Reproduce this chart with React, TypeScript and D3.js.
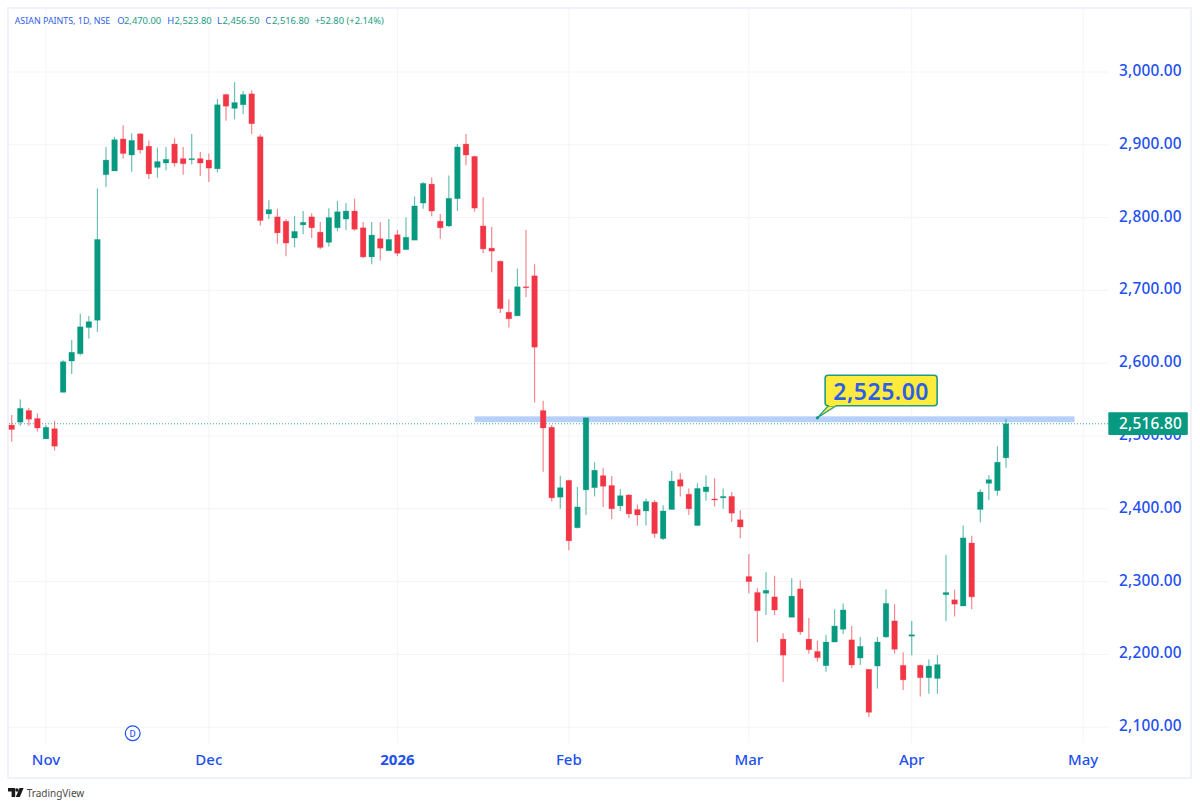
import * as d3 from 'd3';

const WIDTH = 1200;
const HEIGHT = 807;

// daily candles, Asian Paints NSE, late Oct 2025 to Apr 2026
const opens = [
  2515, 2519, 2535, 2524, 2496, 2510, 2560, 2603, 2613, 2649,
  2659, 2859, 2864, 2908, 2886, 2915, 2898, 2869, 2875, 2901,
  2881, 2879.5, 2881, 2879, 2867, 2969, 2950, 2955, 2970, 2911,
  2805, 2801, 2795, 2772, 2790, 2801, 2780, 2766, 2786, 2798,
  2809, 2786, 2746, 2771, 2754.5, 2776.5, 2756, 2769, 2820, 2846,
  2795, 2788.5, 2826, 2901, 2884, 2788.5, 2758, 2740, 2670, 2665,
  2705, 2720, 2535, 2512, 2416, 2439, 2374, 2426, 2429, 2445.5,
  2432, 2404, 2419, 2399, 2397, 2409, 2359, 2399, 2440, 2420,
  2377, 2423.5, 2413.5, 2415, 2417, 2385, 2307, 2285, 2284, 2279,
  2221, 2251, 2290, 2221, 2204, 2184.5, 2217, 2234.5, 2220, 2195,
  2179.5, 2184, 2224, 2246, 2185, 2225, 2185, 2168, 2167, 2282,
  2275, 2266.5, 2353, 2399, 2435, 2425, 2470,
];
const highs = [
  2529, 2550, 2538.5, 2531, 2515, 2521, 2604, 2632, 2668, 2665,
  2840, 2897, 2911, 2927, 2916, 2916, 2906, 2896, 2897, 2909,
  2897, 2915, 2890, 2888, 2963, 2970, 2986, 2974, 2975, 2914,
  2824, 2812, 2798, 2802, 2809, 2806, 2794, 2813, 2823, 2820,
  2826, 2794, 2794, 2793.5, 2798, 2783, 2800, 2829, 2849, 2855,
  2805, 2858, 2901, 2915, 2885, 2828, 2787, 2741, 2688, 2730,
  2783, 2736, 2548.5, 2515, 2445.5, 2440, 2430, 2525, 2464, 2456,
  2445, 2427, 2420, 2406, 2414, 2412, 2405, 2452, 2449, 2428,
  2435, 2446, 2442, 2428, 2423, 2398, 2338, 2291, 2313, 2308,
  2229, 2304.5, 2302, 2250, 2219, 2227, 2262, 2270, 2239, 2224,
  2180, 2224, 2289, 2269, 2203, 2246, 2186, 2193, 2199, 2337,
  2289, 2377, 2363, 2427, 2446, 2486, 2523.8,
];
const lows = [
  2492, 2514, 2514, 2506, 2496, 2480, 2560, 2585, 2611, 2634,
  2643, 2842, 2864, 2881, 2863, 2888, 2853, 2855, 2865, 2870,
  2859, 2873, 2857, 2849, 2862, 2933, 2935, 2942, 2915, 2789,
  2798, 2764, 2747, 2759, 2777, 2772, 2756.5, 2760, 2781, 2783,
  2782, 2744, 2736, 2741, 2754, 2747, 2756, 2769, 2812, 2802,
  2771, 2787, 2809, 2872, 2808, 2751, 2725, 2669, 2649, 2665,
  2691, 2546, 2451, 2410, 2400, 2343, 2373, 2391.5, 2417, 2402.5,
  2386, 2397, 2387, 2377, 2377, 2360, 2357, 2399, 2417, 2391.5,
  2377, 2411, 2403, 2400, 2382, 2359.5, 2284, 2217, 2254, 2254,
  2162, 2251, 2227, 2201, 2190, 2176, 2216.6, 2228, 2181, 2185.5,
  2114, 2153, 2222.5, 2201, 2151, 2199, 2142, 2146, 2146, 2245.5,
  2252, 2266, 2262, 2381.5, 2412, 2418, 2456.5,
];
const closes = [
  2509, 2538, 2523, 2511, 2512, 2486, 2602, 2615, 2650, 2657,
  2770, 2879, 2907, 2888, 2906, 2893, 2860, 2877, 2880, 2875,
  2874, 2881, 2875, 2868, 2955, 2953, 2958, 2969, 2929, 2796,
  2811, 2779, 2765, 2781, 2793.5, 2786, 2759, 2800, 2808, 2809,
  2784, 2746, 2776, 2758, 2770, 2751, 2773, 2816, 2847, 2809,
  2786, 2826.5, 2897, 2886, 2813, 2757, 2754, 2675, 2661, 2705,
  2704, 2622, 2511, 2415, 2429, 2356, 2402.5, 2525, 2453, 2431,
  2400, 2418, 2393, 2391.5, 2410, 2366, 2397, 2438, 2431, 2400,
  2428, 2430, 2412.5, 2417, 2394, 2375, 2300, 2260, 2288, 2261,
  2199, 2280, 2231, 2206.5, 2195.5, 2217, 2239, 2261, 2185.5, 2211,
  2120.5, 2217, 2270, 2207, 2165, 2227, 2168, 2184, 2186, 2285,
  2269, 2360, 2279, 2423, 2440, 2464, 2516.8,
];

const priceTicks = [2100, 2200, 2300, 2400, 2500, 2600, 2700, 2800, 2900, 3000];
// candle index of the first session of each month, May is past the last bar
const monthTicks = [
  { index: 4, label: 'Nov', bold: false },
  { index: 23, label: 'Dec', bold: false },
  { index: 45, label: '2026', bold: true },
  { index: 65, label: 'Feb', bold: false },
  { index: 86, label: 'Mar', bold: false },
  { index: 105, label: 'Apr', bold: false },
  { index: 125, label: 'May', bold: false },
];

const lastClose = 2516.8;
const bandTop = 2527;
const bandBottom = 2519;
const bandStart = 54;
const bandEnd = 124;
const calloutPrice = 2525;
const calloutIndex = 94;
const dividendIndex = 14;

const headerParts = [
  { x: 14.7, text: 'ASIAN PAINTS, 1D, NSE', color: 'blue', size: 8.9 },
  { x: 117.3, text: 'O', color: 'blue', size: 9.4 },
  { x: 124, text: '2,470.00', color: 'green', size: 9.4 },
  { x: 167.3, text: 'H', color: 'blue', size: 9.4 },
  { x: 174.5, text: '2,523.80', color: 'green', size: 9.4 },
  { x: 217, text: 'L', color: 'blue', size: 9.4 },
  { x: 222.5, text: '2,456.50', color: 'green', size: 9.4 },
  { x: 265.3, text: 'C', color: 'blue', size: 9.4 },
  { x: 272, text: '2,516.80', color: 'green', size: 9.4 },
  { x: 314.7, text: '+52.80 (+2.14%)', color: 'green', size: 9.4 },
];

const GREEN = '#089981';
const RED = '#f23645';
const BLUE = '#1e50f0';
const GRID = '#f3f4f8';
const FRAME = '#f0f2f9';
const FONT = "'Noto Sans', sans-serif";

const PLOT = { left: 9, right: 1108, top: 9, bottom: 743 };
const BODY_WIDTH = 5.6;

const x = d3.scaleLinear().domain([0, 116]).range([11.7, 1006]);
const y = d3.scaleLinear().domain([2100, 3000]).range([727.2, 72]);
const fmt = d3.format(',.2f');

export default function App() {
  const lastY = y(lastClose);
  const anchorX = x(calloutIndex);
  const anchorY = y(calloutPrice);
  const boxX = anchorX + 7.7;
  const boxY = anchorY - 42.5;
  const boxW = 112;
  const boxH = 30.5;

  return (
    <svg
      width={WIDTH}
      height={HEIGHT}
      style={{ position: 'absolute', top: 0, left: 0, background: '#fff', fontFamily: FONT }}
    >
      <rect x={8} y={8} width={1183} height={770} fill="#fff" stroke={FRAME} strokeWidth={2} />

      {priceTicks.map((t) => (
        <line key={t} x1={PLOT.left} x2={PLOT.right} y1={y(t)} y2={y(t)} stroke={GRID} strokeWidth={1} />
      ))}
      {monthTicks.map((m) => (
        <line key={m.label} x1={x(m.index)} x2={x(m.index)} y1={PLOT.top} y2={PLOT.bottom} stroke={GRID} strokeWidth={1} />
      ))}

      <rect
        x={x(bandStart)}
        y={y(bandTop)}
        width={x(bandEnd) - x(bandStart)}
        height={y(bandBottom) - y(bandTop)}
        fill="#b7d0fb"
      />

      <line
        x1={PLOT.left}
        x2={PLOT.right}
        y1={lastY}
        y2={lastY}
        stroke={GREEN}
        strokeWidth={1}
        strokeDasharray="1 2"
        opacity={0.8}
      />

      {opens.map((open, i) => {
        const close = closes[i];
        const color = close >= open ? GREEN : RED;
        const top = y(Math.max(open, close));
        const bottom = y(Math.min(open, close));
        return (
          <g key={i}>
            <line x1={x(i)} x2={x(i)} y1={y(highs[i])} y2={y(lows[i])} stroke={color} strokeWidth={1.2} opacity={0.6} />
            <rect
              x={x(i) - BODY_WIDTH / 2}
              y={top}
              width={BODY_WIDTH}
              height={Math.max(bottom - top, 1)}
              fill={color}
              stroke={color}
              strokeOpacity={0.3}
              strokeWidth={0.8}
            />
          </g>
        );
      })}

      {/* callout on the resistance band */}
      <path
        d={`M${anchorX},${anchorY} L${boxX + 3},${boxY + boxH} L${boxX + 11},${boxY + boxH} Z`}
        fill="#ffeb3b"
        stroke="#1f9c82"
        strokeWidth={1.2}
      />
      <circle cx={anchorX} cy={anchorY} r={1.6} fill={GREEN} />
      <rect x={boxX} y={boxY} width={boxW} height={boxH} rx={3} fill="#ffeb3b" stroke="#1f9c82" strokeWidth={1.6} />
      <rect x={boxX + 3.8} y={boxY + boxH - 1.5} width={6.5} height={2} fill="#ffeb3b" />
      <text
        x={boxX + boxW / 2}
        y={boxY + boxH / 2}
        textAnchor="middle"
        dominantBaseline="central"
        fontSize={23}
        fontWeight={600}
        letterSpacing={0.5}
        fill="#2d5fe6"
      >
        {fmt(calloutPrice)}
      </text>

      {/* header line */}
      {headerParts.map((p) => (
        <text
          key={p.x}
          x={p.x}
          y={20}
          dominantBaseline="central"
          fontSize={p.size}
          fill={p.color === 'blue' ? '#2f62e8' : '#1b9c84'}
        >
          {p.text}
        </text>
      ))}

      {/* price scale */}
      {priceTicks.map((t) => (
        <text
          key={t}
          x={1119}
          y={y(t) - 1.5}
          dominantBaseline="central"
          fontSize={15.4}
          fontWeight={500}
          letterSpacing={0.2}
          fill={BLUE}
        >
          {fmt(t)}
        </text>
      ))}
      <rect x={1108.3} y={412.3} width={79.5} height={22.7} rx={1} fill={GREEN} />
      <text
        x={1150.5}
        y={lastY - 0.5}
        textAnchor="middle"
        dominantBaseline="central"
        fontSize={15.4}
        fontWeight={500}
        letterSpacing={0.2}
        fill="#fff"
      >
        {fmt(lastClose)}
      </text>

      {/* time scale */}
      {monthTicks.map((m) => (
        <text
          key={m.label}
          x={x(m.index)}
          y={759}
          textAnchor="middle"
          dominantBaseline="central"
          fontSize={15}
          fontWeight={m.bold ? 700 : 500}
          fill={BLUE}
        >
          {m.label}
        </text>
      ))}

      {/* dividend marker */}
      <circle cx={x(dividendIndex) + 1} cy={733.3} r={7.4} fill="#fff" stroke={BLUE} strokeWidth={1.2} />
      <text
        x={x(dividendIndex) + 1}
        y={733.5}
        textAnchor="middle"
        dominantBaseline="central"
        fontSize={8.5}
        fontWeight={500}
        fill={BLUE}
      >
        D
      </text>

      {/* TradingView mark */}
      <g fill="#1a1a1a">
        <path d="M8,788 H15.2 V797 H11.6 V791.6 H8 Z" />
        <circle cx={17} cy={790} r={1.7} />
        <path d="M19.6,788 H23.6 L19.8,797 H15.8 Z" />
      </g>
      <text x={26.7} y={792.7} dominantBaseline="central" fontSize={10} fill="#4a4a4a">
        TradingView
      </text>
    </svg>
  );
}
